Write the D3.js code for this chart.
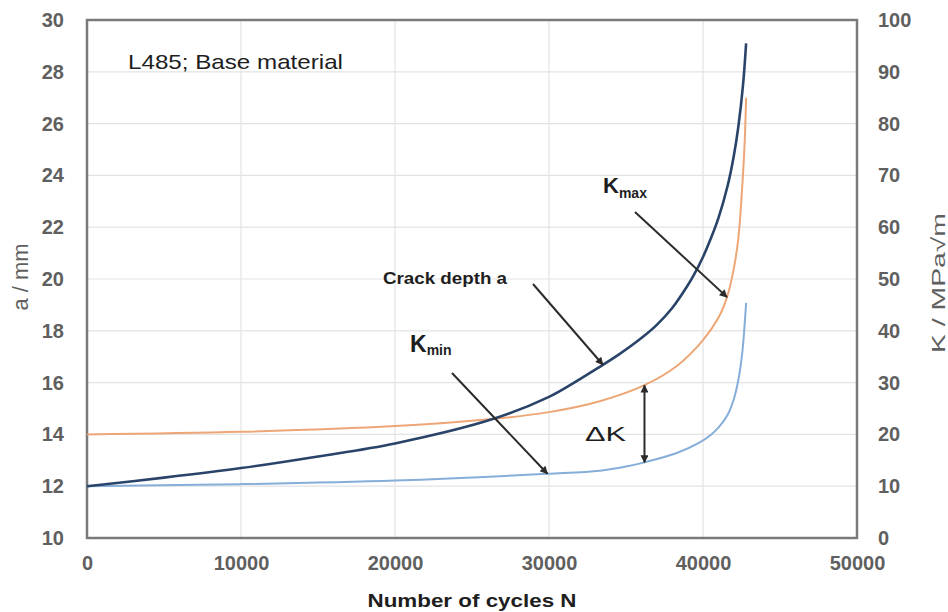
<!DOCTYPE html>
<html>
<head>
<meta charset="utf-8">
<script src="https://cdn.jsdelivr.net/npm/d3@7"></script>
<style>
  html, body { margin: 0; padding: 0; background: #fff; }
  svg { display: block; }
</style>
</head>
<body>
<svg id="chart" width="948" height="612"></svg>
<script>
// ---- Data ----
const xTicks = [0, 10000, 20000, 30000, 40000, 50000];
const aTicks = [10, 12, 14, 16, 18, 20, 22, 24, 26, 28, 30];
const kTicks = [0, 10, 20, 30, 40, 50, 60, 70, 80, 90, 100];

// Crack depth a (mm), left axis
const cyclesA = [0, 5000, 10000, 15000, 20000, 26400, 30000, 31500, 33000, 34500, 36000, 37000, 38000, 39000, 39400, 40000, 40500, 41000, 41600, 42000, 42300, 42600, 42800];
const depthA  = [12.0, 12.33, 12.7, 13.15, 13.65, 14.6, 15.45, 15.95, 16.5, 17.07, 17.72, 18.23, 18.88, 19.75, 20.15, 20.85, 21.55, 22.35, 23.6, 24.75, 25.9, 27.5, 29.1];

// K max (MPa√m), right axis
const cyclesKmax = [0, 10000, 20000, 26400, 30000, 33300, 36200, 38300, 40000, 41000, 41560, 42000, 42300, 42530, 42700, 42800];
const valuesKmax = [20.0, 20.5, 21.6, 23.0, 24.3, 26.4, 29.5, 33.2, 38.2, 42.5, 46.5, 52.0, 58.0, 67.0, 76.0, 85.0];

// K min (MPa√m), right axis
const cyclesKmin = [0, 10000, 20000, 29900, 33300, 35000, 36200, 38300, 39700, 40500, 41000, 41600, 42000, 42300, 42550, 42800];
const valuesKmin = [10.0, 10.4, 11.1, 12.4, 13.0, 13.8, 14.6, 16.4, 18.3, 19.9, 21.3, 23.8, 26.8, 30.6, 35.8, 45.4];

// ---- Layout ----
const L = 87, R = 857, T = 20, B = 538;
const svg = d3.select("#chart");

const x  = d3.scaleLinear().domain([0, 50000]).range([L, R]);
const yA = d3.scaleLinear().domain([10, 30]).range([B, T]);
const yK = d3.scaleLinear().domain([0, 100]).range([B, T]);

const gridColor = "#e3e3e3";
const tickColor = "#5f5f5f";
const FONT = "'Liberation Sans', Arial, sans-serif";

// gridlines
const grid = svg.append("g");
grid.selectAll("line.h").data(aTicks).join("line")
  .attr("x1", L).attr("x2", R)
  .attr("y1", d => yA(d)).attr("y2", d => yA(d))
  .attr("stroke", gridColor).attr("stroke-width", 1.2);
grid.selectAll("line.v").data(xTicks).join("line")
  .attr("y1", T).attr("y2", B)
  .attr("x1", d => x(d)).attr("x2", d => x(d))
  .attr("stroke", gridColor).attr("stroke-width", 1.2);

// axes (labels only, via d3 axes)
const axL = d3.axisLeft(yA).tickValues(aTicks).tickSize(0).tickPadding(23).tickFormat(d3.format("d"));
const axR = d3.axisRight(yK).tickValues(kTicks).tickSize(0).tickPadding(21).tickFormat(d3.format("d"));
const axB = d3.axisBottom(x).tickValues(xTicks).tickSize(0).tickPadding(18).tickFormat(d3.format("d"));

function styleAxis(g) {
  g.select(".domain").remove();
  g.selectAll("text")
    .attr("fill", tickColor)
    .style("font-family", FONT)
    .style("font-size", "20px")
    .style("font-weight", "bold");
}
svg.append("g").attr("transform", `translate(${L},0)`).call(axL).call(styleAxis);
svg.append("g").attr("transform", `translate(${R},0)`).call(axR).call(styleAxis);
svg.append("g").attr("transform", `translate(0,${B})`).call(axB).call(styleAxis);

// plot frame
svg.append("rect")
  .attr("x", L).attr("y", T).attr("width", R - L).attr("height", B - T)
  .attr("fill", "none").attr("stroke", "#7a7a7a").attr("stroke-width", 2.5);

// series
const curve = d3.curveCatmullRom.alpha(0.5);
const lineA = d3.line().x(d => x(d[0])).y(d => yA(d[1])).curve(curve);
const lineK = d3.line().x(d => x(d[0])).y(d => yK(d[1])).curve(curve);

svg.append("path")
  .datum(d3.zip(cyclesKmin, valuesKmin))
  .attr("d", lineK).attr("fill", "none")
  .attr("stroke", "#86aed8").attr("stroke-width", 2);
svg.append("path")
  .datum(d3.zip(cyclesKmax, valuesKmax))
  .attr("d", lineK).attr("fill", "none")
  .attr("stroke", "#eda676").attr("stroke-width", 2);
svg.append("path")
  .datum(d3.zip(cyclesA, depthA))
  .attr("d", lineA).attr("fill", "none")
  .attr("stroke", "#2a4469").attr("stroke-width", 2.6);

// arrow marker
const defs = svg.append("defs");
defs.append("marker")
  .attr("id", "ah").attr("viewBox", "0 0 10 10")
  .attr("refX", 9).attr("refY", 5)
  .attr("markerWidth", 5).attr("markerHeight", 4)
  .attr("markerUnits", "strokeWidth")
  .attr("orient", "auto-start-reverse")
  .append("path").attr("d", "M0,0 L10,5 L0,10 z").attr("fill", "#2b2b2b");

function arrow(x1, y1, x2, y2, both) {
  const l = svg.append("line")
    .attr("x1", x1).attr("y1", y1).attr("x2", x2).attr("y2", y2)
    .attr("stroke", "#2b2b2b").attr("stroke-width", 2)
    .attr("marker-end", "url(#ah)");
  if (both) l.attr("marker-start", "url(#ah)");
}
// annotation arrows anchored to the curves
const tipA = 33500;
arrow(533, 284, x(tipA), yA(d3.interpolateNumber(depthA[8], depthA[9])((tipA - cyclesA[8]) / (cyclesA[9] - cyclesA[8]))));
arrow(635, 212, x(cyclesKmax[10]), yK(valuesKmax[10]));
arrow(452, 373, x(cyclesKmin[3]), yK(valuesKmin[3]));
arrow(x(cyclesKmax[6]), yK(valuesKmax[6]), x(cyclesKmin[6]), yK(valuesKmin[6]), true);

// texts
svg.append("text").attr("x", 128).attr("y", 69)
  .attr("textLength", 215).attr("lengthAdjust", "spacingAndGlyphs")
  .style("font-family", FONT).style("font-size", "21px").attr("fill", "#1e1e1e")
  .text("L485; Base material");

svg.append("text").attr("x", 383).attr("y", 284)
  .attr("textLength", 124).attr("lengthAdjust", "spacingAndGlyphs")
  .style("font-family", FONT).style("font-size", "16px").style("font-weight", "bold").attr("fill", "#1e1e1e")
  .text("Crack depth a");

const tmax = svg.append("text").attr("x", 603).attr("y", 193)
  .style("font-family", FONT).style("font-weight", "bold").attr("fill", "#1e1e1e");
tmax.append("tspan").style("font-size", "22px").text("K");
tmax.append("tspan").style("font-size", "14px").attr("dy", 5).text("max");

const tmin = svg.append("text").attr("x", 410).attr("y", 352)
  .style("font-family", FONT).style("font-weight", "bold").attr("fill", "#1e1e1e");
tmin.append("tspan").style("font-size", "23px").text("K");
tmin.append("tspan").style("font-size", "14px").attr("dy", 3).text("min");

svg.append("text").attr("x", 585).attr("y", 441)
  .attr("textLength", 41).attr("lengthAdjust", "spacingAndGlyphs")
  .style("font-family", FONT).style("font-size", "20px").attr("fill", "#1e1e1e")
  .text("ΔK");

// axis titles
svg.append("text").attr("x", 472).attr("y", 607)
  .attr("text-anchor", "middle")
  .attr("textLength", 209).attr("lengthAdjust", "spacingAndGlyphs")
  .style("font-family", FONT).style("font-size", "19px").style("font-weight", "bold").attr("fill", "#1e1e1e")
  .text("Number of cycles N");

svg.append("text")
  .attr("transform", "translate(28,277) rotate(-90)")
  .attr("text-anchor", "middle")
  .style("font-family", FONT).style("font-size", "22px").attr("fill", tickColor)
  .text("a / mm");

svg.append("text")
  .attr("transform", "translate(945,283) rotate(-90)")
  .attr("text-anchor", "middle")
  .attr("textLength", 140).attr("lengthAdjust", "spacingAndGlyphs")
  .style("font-family", FONT).style("font-size", "19px").attr("fill", tickColor)
  .text("K  / MPa√m");
</script>
</body>
</html>
